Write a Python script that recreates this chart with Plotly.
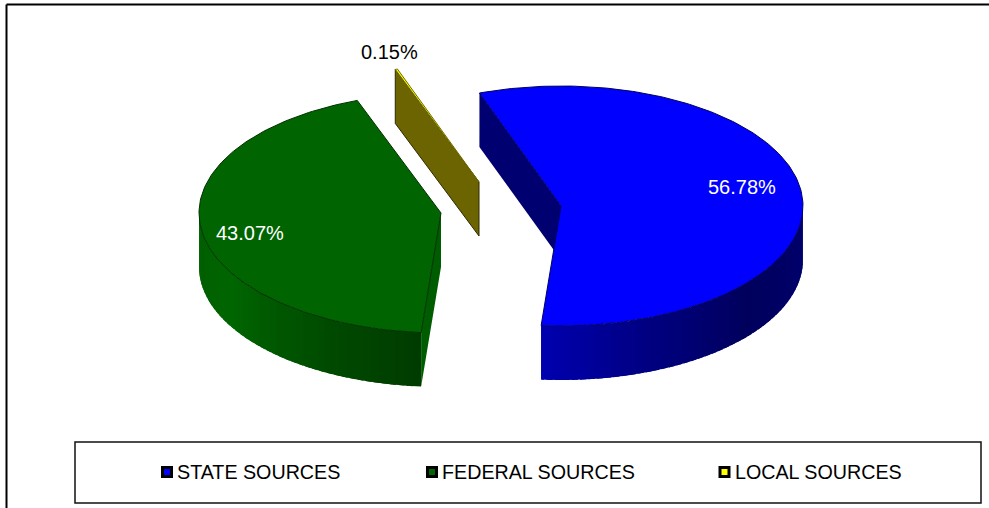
import math
import plotly.graph_objects as go

# ---- data ----
categories = ["STATE SOURCES", "FEDERAL SOURCES", "LOCAL SOURCES"]
shares = [56.78, 43.07, 0.15]

# ---- styles ----
FONT = "Liberation Sans, Arial, sans-serif"
top_colors = ["#0000FF", "#006400", "#FFFF00"]
legend_colors = ["#0000FF", "#006400", "#FFFF00"]
label_colors = ["white", "white", "black"]
# (angle clockwise from 12 o'clock, rgb) shading stops for the outer wall
wall_stops = [
    [(90, (0, 0, 112)), (130, (0, 0, 92)), (160, (0, 0, 130)), (185, (0, 0, 176))],
    [(185, (0, 60, 0)), (205, (0, 72, 0)), (240, (0, 102, 0)), (270, (0, 92, 0))],
    [],
]
cut_colors = ["#000070", "#005C00", "#6B6400"]

# ---- projection of the tilted disc ----
START = -19.7
RX, RY, DEPTH = 242, 120, 54
apexes = [(561, 206), (441, 213), (479, 182)]
label_pos = [(742, 187), (250, 233), (389, 52)]
legend_left = [137, 402, 695]
legend_key_x = [167, 432, 724.5]
legend_y = 472


def pt(apex, ang, drop=0):
    a = math.radians(ang)
    return apex[0] + RX * math.sin(a), apex[1] - RY * math.cos(a) + drop


def shade(stops, ang):
    for (a0, c0), (a1, c1) in zip(stops, stops[1:]):
        if a0 <= ang <= a1:
            t = (ang - a0) / (a1 - a0)
            r = [round(u + (v - u) * t) for u, v in zip(c0, c1)]
            return f"rgb({r[0]},{r[1]},{r[2]})"
    return f"rgb{stops[-1][1]}"


fig = go.Figure()


def poly(points, fill, line=None, width=0):
    xs = [p[0] for p in points] + [points[0][0]]
    ys = [p[1] for p in points] + [points[0][1]]
    fig.add_trace(go.Scatter(
        x=xs, y=ys, mode="lines", fill="toself", fillcolor=fill,
        line=dict(color=line or fill, width=width),
        hoverinfo="skip", showlegend=False))


# slice angular extents come from the shares
spans = []
cursor = START
for s in shares:
    spans.append((cursor, cursor + s * 3.6))
    cursor += s * 3.6


def arc(apex, a0, a1, drop=0):
    n = max(2, int(abs(a1 - a0)) + 1)
    return [pt(apex, a0 + (a1 - a0) * i / n, drop) for i in range(n + 1)]


def wall(i):
    # painted from one end to the other; each strip overlaps the next to hide seams
    a0, a1 = spans[i]
    lo, hi = max(a0, 90), min(a1, 270)
    step = 2.0
    ang = lo
    while ang < hi:
        nxt = min(ang + step, hi)
        end = min(nxt + 1.5, hi)
        pts = arc(apexes[i], ang, end) + arc(apexes[i], end, ang, DEPTH)
        poly(pts, shade(wall_stops[i], (ang + nxt) / 2))
        ang = nxt


# STATE
ap = apexes[0]
a0, a1 = spans[0]
poly([pt(ap, a0), ap, (ap[0], ap[1] + DEPTH), pt(ap, a0, DEPTH)], cut_colors[0])
wall(0)
poly([ap] + arc(ap, a0, a1), top_colors[0], "#000060", 1)

# FEDERAL
ap = apexes[1]
a0, a1 = spans[1]
wall(1)
poly([pt(ap, a0), ap, (ap[0], ap[1] + DEPTH), pt(ap, a0, DEPTH)], cut_colors[1])
poly([ap] + arc(ap, a0, a1), top_colors[1], "#003000", 1)

# LOCAL
ap = apexes[2]
a0, a1 = spans[2]
poly([pt(ap, a0), ap, (ap[0], ap[1] + DEPTH), pt(ap, a0, DEPTH)], cut_colors[2], "#2E2B00", 1)
poly([ap] + arc(ap, a0, a1), top_colors[2], "#6E6A00", 1)

# legend: native entries carry the text; the keys sit right beside the text as in the original
layout_legends = {}
for i, name in enumerate(categories):
    key = "legend" if i == 0 else f"legend{i + 1}"
    fig.add_trace(go.Scatter(
        x=[None], y=[None], mode="markers", name=name, legend=key,
        marker=dict(symbol="square", size=9, color="rgba(0,0,0,0)",
                    line=dict(color="rgba(0,0,0,0)", width=0))))
    layout_legends[key] = dict(
        x=legend_left[i] / 989, xanchor="left", y=1 - (legend_y - 0.5) / 508, yanchor="middle",
        bgcolor="rgba(0,0,0,0)", borderwidth=0, font=dict(family=FONT, size=19.7, color="black"),
        itemclick=False, itemdoubleclick=False)
    fig.add_trace(go.Scatter(
        x=[legend_key_x[i]], y=[legend_y], mode="markers", hoverinfo="skip", showlegend=False,
        marker=dict(symbol="square", size=9, color=legend_colors[i],
                    line=dict(color="black", width=3))))

annotations = [
    dict(x=label_pos[i][0], y=label_pos[i][1], xref="x", yref="y",
         text=f"{shares[i]:.2f}%", showarrow=False,
         font=dict(family=FONT, size=20, color=label_colors[i]))
    for i in range(3)
]

shapes = [
    dict(type="line", xref="x", yref="y", x0=6.5, x1=6.5, y0=4.5, y1=508,
         line=dict(color="black", width=2)),
    dict(type="line", xref="x", yref="y", x0=6.5, x1=989, y0=4.5, y1=4.5,
         line=dict(color="black", width=2)),
    dict(type="rect", xref="x", yref="y", x0=75, x1=981, y0=442, y1=503,
         line=dict(color="#111111", width=1.5), fillcolor="white", layer="below"),
]

fig.update_layout(
    width=989, height=508, margin=dict(l=0, r=0, t=0, b=0),
    paper_bgcolor="white", plot_bgcolor="white",
    xaxis=dict(range=[0, 989], visible=False, fixedrange=True),
    yaxis=dict(range=[508, 0], visible=False, fixedrange=True),
    annotations=annotations, shapes=shapes, **layout_legends,
)

fig.write_html("out.html", config={"displayModeBar": False},
               post_script="document.body.style.margin='0';document.documentElement.style.overflow='hidden';")
